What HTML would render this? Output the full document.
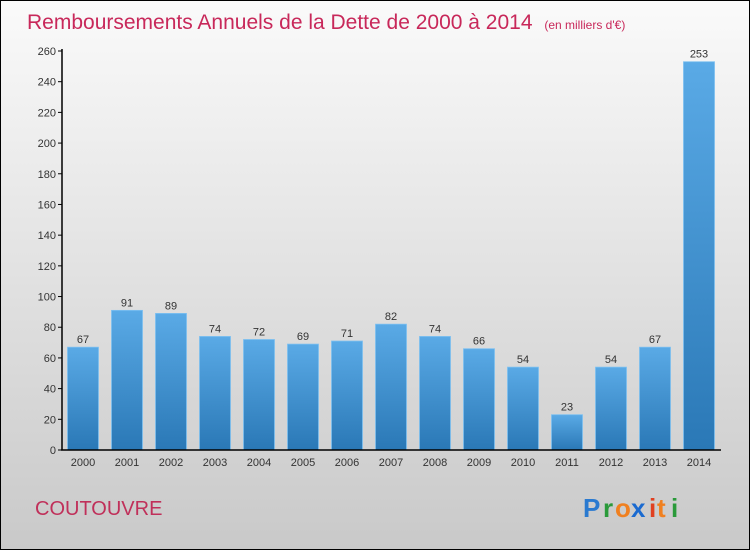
<!DOCTYPE html>
<html><head><meta charset="utf-8"><style>
body{margin:0}
#c{position:relative;width:748px;height:548px;border:1px solid #000;background:linear-gradient(#fafafa,#c9c9c9);font-family:"Liberation Sans",sans-serif;overflow:hidden}
</style></head><body>
<div id="c">
<svg width="748" height="548">
<defs><linearGradient id="bg" x1="0" y1="0" x2="0" y2="1"><stop offset="0" stop-color="#5aaae6"/><stop offset="1" stop-color="#2a78b6"/></linearGradient></defs>
<text x="26" y="28" font-size="21" fill="#c8285a">Remboursements Annuels de la Dette de 2000 à 2014 <tspan font-size="12" dx="6">(en milliers d'€)</tspan></text>
<g id="plot"></g>
<text x="34" y="514" font-size="20" fill="#c0305a">COUTOUVRE</text>
<g font-size="26" font-weight="bold" font-family="'Liberation Sans',sans-serif">
<text x="582" y="516" fill="#2a7ad0">P</text><text x="602" y="516" fill="#2a9a3a">r</text><text x="614" y="516" fill="#f08020">o</text><text x="630" y="516" fill="#1a6ad0">x</text><text x="648" y="516" fill="#e04020">i</text><text x="656" y="516" fill="#f08020">t</text><text x="670" y="516" fill="#2a9a3a">i</text>
</g>
</svg>
</div>
<script>
const years=["2000","2001","2002","2003","2004","2005","2006","2007","2008","2009","2010","2011","2012","2013","2014"];
const values=[67,91,89,74,72,69,71,82,74,66,54,23,54,67,253];
const yTicks=[0,20,40,60,80,100,120,140,160,180,200,220,240,260];
const ns="http://www.w3.org/2000/svg";
const g=document.getElementById('plot');
const y0=449,yTop=50,yMax=260,xStart=60,pitch=44,bw=31;
const ys=v=>y0-(y0-yTop)*v/yMax;
const xs=i=>xStart+22+i*pitch;
function mk(t,a,p){const e=document.createElementNS(ns,t);for(const k in a)e.setAttribute(k,a[k]);(p||g).appendChild(e);return e;}
yTicks.forEach(t=>{
 const l=mk('line',{x1:57,x2:61,y1:ys(t),y2:ys(t),stroke:'#000'});
 
 
 const tx=mk('text',{x:55,y:ys(t)+4,'font-size':11,fill:'#333','text-anchor':'end'});tx.textContent=t;
 
 
});
values.forEach((v,i)=>{
 const r=mk('rect',{x:xs(i)-bw/2,y:ys(v),width:bw,height:y0-ys(v),fill:'url(#bg)',stroke:'#7cc0f0','stroke-width':0.8});
 
 
 const vl=mk('text',{x:xs(i),y:ys(v)-4,'font-size':11,fill:'#333','text-anchor':'middle'});vl.textContent=v;
 
 
 const xl=mk('text',{x:xs(i),y:465,'font-size':11,fill:'#333','text-anchor':'middle'});xl.textContent=years[i];
 
 
});
const ya=mk('line',{x1:61,x2:61,y1:yTop-2,y2:y0,stroke:'#000','stroke-width':1.5});


const xa=mk('line',{x1:60,x2:720,y1:y0,y2:y0,stroke:'#000','stroke-width':1.5});


</script>
</body></html>
